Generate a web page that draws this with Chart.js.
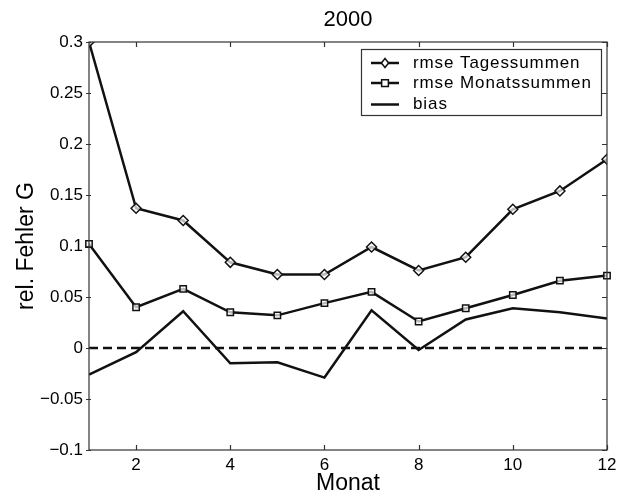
<!DOCTYPE html>
<html>
<head>
<meta charset="utf-8">
<script src="https://cdn.jsdelivr.net/npm/chart.js@4.4.0/dist/chart.umd.min.js"></script>
<style>
  html, body { margin: 0; padding: 0; background: #fff; }
  #wrap { width: 626px; height: 495px; }
</style>
</head>
<body>
<div id="wrap"><canvas id="chart" width="626" height="495"></canvas></div>
<script>
// data
const chartTitle = '2000';
const months = [1, 2, 3, 4, 5, 6, 7, 8, 9, 10, 11, 12];
const rmseTages = [0.300, 0.137, 0.125, 0.084, 0.072, 0.072, 0.099, 0.076, 0.089, 0.136, 0.154, 0.185];
const rmseMonats = [0.102, 0.040, 0.058, 0.035, 0.032, 0.044, 0.055, 0.026, 0.039, 0.052, 0.066, 0.071];
const bias = [-0.026, -0.004, 0.036, -0.015, -0.014, -0.029, 0.037, -0.002, 0.028, 0.039, 0.035, 0.029];
const zeroLine = [0, 0];
const xTicks = [2, 4, 6, 8, 10, 12];
const yTicks = [-0.1, -0.05, 0, 0.05, 0.1, 0.15, 0.2, 0.25, 0.3];
const labels = ['rmse Tagessummen', 'rmse Monatssummen', 'bias'];

const FONT = '"Liberation Sans", Arial, Helvetica, sans-serif';
Chart.defaults.font.family = FONT;
Chart.defaults.color = '#000';

function toPoints(vals) {
    return vals.map((v, i) => ({ x: months[i], y: v }));
}

function fmtY(v) {
    const a = Math.abs(+v.toFixed(2));
    return (v < 0 ? '\u2212' : '') + String(a);
}

// titel oben, ueber der mitte der plotflaeche
const titlePlugin = {
    id: 'topTitle',
    afterDraw(chart) {
        const ctx = chart.ctx;
        const a = chart.chartArea;
        ctx.save();
        ctx.font = '22px ' + FONT;
        ctx.fillStyle = '#000';
        ctx.textAlign = 'center';
        ctx.textBaseline = 'middle';
        ctx.fillText(chartTitle, (a.left + a.right) / 2, 20);
        ctx.restore();
    }
};

// rahmen und ticks wie matlab
const boxPlugin = {
    id: 'boxAxes',
    afterDraw(chart) {
        const ctx = chart.ctx;
        const a = chart.chartArea;
        const xs = chart.scales.x;
        const ys = chart.scales.y;
        ctx.save();
        ctx.strokeStyle = '#333';
        ctx.lineWidth = 1.2;
        ctx.strokeRect(a.left, a.top, a.right - a.left, a.bottom - a.top);
        ctx.beginPath();
        for (const t of xTicks) {
            const px = Math.round(xs.getPixelForValue(t)) + 0.5;
            ctx.moveTo(px, a.bottom); ctx.lineTo(px, a.bottom - 5);
            ctx.moveTo(px, a.top); ctx.lineTo(px, a.top + 5);
        }
        for (const t of yTicks) {
            const py = Math.round(ys.getPixelForValue(t)) + 0.5;
            ctx.moveTo(a.left - 3, py); ctx.lineTo(a.left + 2, py);
            ctx.moveTo(a.right, py); ctx.lineTo(a.right - 5, py);
        }
        ctx.stroke();
        ctx.restore();
    }
};

function drawMarker(ctx, style, x, y, r) {
    ctx.beginPath();
    if (style === 'rectRot') {
        ctx.moveTo(x, y - r); ctx.lineTo(x + r * 0.8, y);
        ctx.lineTo(x, y + r); ctx.lineTo(x - r * 0.8, y);
        ctx.closePath();
    } else if (style === 'rect') {
        const s = r * 0.75;
        ctx.rect(x - s, y - s, 2 * s, 2 * s);
    }
    ctx.fillStyle = '#fff';
    ctx.fill();
    ctx.stroke();
}

// legende mit kasten oben rechts
const legendPlugin = {
    id: 'boxLegend',
    afterDatasetsDraw(chart) {
        const ctx = chart.ctx;
        const left = 361, top = 49, right = 601, bottom = 115;
        const rows = [63, 83, 104.5];
        ctx.save();
        ctx.fillStyle = '#fff';
        ctx.fillRect(left, top, right - left, bottom - top);
        ctx.strokeStyle = '#333';
        ctx.lineWidth = 1.2;
        ctx.strokeRect(left + 0.5, top + 0.5, right - left, bottom - top);
        ctx.font = '17px ' + FONT;
        ctx.textBaseline = 'middle';
        if ('letterSpacing' in ctx) ctx.letterSpacing = '0.9px';
        labels.forEach((lab, i) => {
            const ds = chart.data.datasets[i];
            const y = rows[i];
            ctx.strokeStyle = ds.borderColor;
            ctx.lineWidth = ds.borderWidth;
            ctx.beginPath();
            ctx.moveTo(371, y); ctx.lineTo(399, y);
            ctx.stroke();
            if (ds.pointRadius > 0) {
                ctx.lineWidth = 1.5;
                drawMarker(ctx, ds.pointStyle, 385, y, 4.5);
            }
            ctx.fillStyle = '#000';
            ctx.fillText(lab, 413, y);
        });
        if ('letterSpacing' in ctx) ctx.letterSpacing = '0px';
        ctx.restore();
    }
};

window.onload = function () {
    drawChart();
};

function drawChart() {
    const ctx = document.getElementById('chart').getContext('2d');
    new Chart(ctx, {
        type: 'line',
        data: {
            datasets: [
                {
                    label: labels[0],
                    data: toPoints(rmseTages),
                    borderColor: '#111',
                    borderWidth: 2.5,
                    pointStyle: 'rectRot',
                    pointRadius: 5,
                    pointBorderWidth: 1.5,
                    pointBackgroundColor: 'rgba(255,255,255,0.7)',
                    clip: 0,
                    tension: 0
                },
                {
                    label: labels[1],
                    data: toPoints(rmseMonats),
                    borderColor: '#111',
                    borderWidth: 2.5,
                    pointStyle: 'rect',
                    pointRadius: 4.5,
                    pointBorderWidth: 1.5,
                    pointBackgroundColor: 'rgba(255,255,255,0.7)',
                    clip: false,
                    tension: 0
                },
                {
                    label: labels[2],
                    data: toPoints(bias),
                    borderColor: '#111',
                    borderWidth: 2.5,
                    pointRadius: 0,
                    tension: 0
                },
                {
                    label: 'null',
                    data: [{ x: months[0], y: zeroLine[0] }, { x: months[months.length - 1], y: zeroLine[1] }],
                    borderColor: '#111',
                    borderWidth: 2.5,
                    borderDash: [9, 5],
                    pointRadius: 0
                }
            ]
        },
        options: {
            responsive: false,
            animation: false,
            devicePixelRatio: 1,
            layout: { padding: { top: 42, right: 19, left: 0, bottom: 0 } },
            plugins: {
                legend: { display: false },
                title: { display: false },
                tooltip: { enabled: false }
            },
            scales: {
                x: {
                    type: 'linear',
                    min: 1,
                    max: 12,
                    afterBuildTicks: s => { s.ticks = xTicks.map(v => ({ value: v })); },
                    afterFit: s => { s.height = 45; },
                    grid: { display: false, drawTicks: false },
                    border: { display: false },
                    ticks: { font: { size: 17 }, color: '#000', padding: 5, maxRotation: 0 },
                    title: { display: true, text: 'Monat', font: { size: 23, lineHeight: 1 }, color: '#000', padding: { top: 0, bottom: 0 } }
                },
                y: {
                    type: 'linear',
                    min: -0.1,
                    max: 0.3,
                    afterBuildTicks: s => { s.ticks = yTicks.map(v => ({ value: v })); },
                    afterFit: s => { s.width = 89; },
                    grid: { display: false, drawTicks: false },
                    border: { display: false },
                    ticks: { font: { size: 17 }, color: '#000', padding: 6, callback: v => fmtY(v) },
                    title: { display: true, text: 'rel. Fehler G', font: { size: 23 }, color: '#000', padding: { top: 13, bottom: 0 } }
                }
            }
        },
        plugins: [titlePlugin, boxPlugin, legendPlugin]
    });
}
</script>
</body>
</html>
